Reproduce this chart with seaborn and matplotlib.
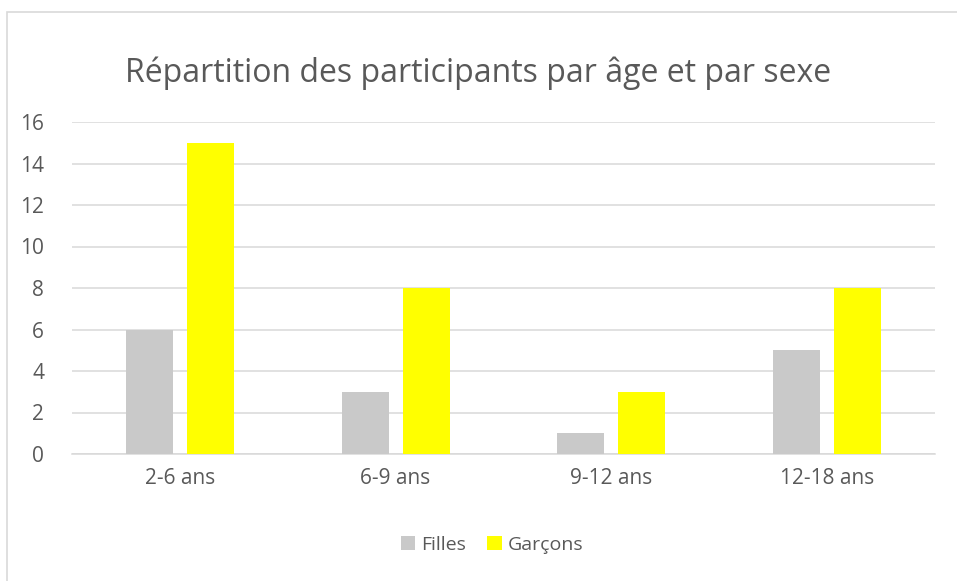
import pandas as pd
import matplotlib
matplotlib.use("Agg")
import matplotlib.pyplot as plt
import seaborn as sns
from matplotlib.patches import Rectangle

categories = ["2-6 ans", "6-9 ans", "9-12 ans", "12-18 ans"]
filles = [6, 3, 1, 5]
garcons = [15, 8, 3, 8]
yticks = [0, 2, 4, 6, 8, 10, 12, 14, 16]

df = pd.DataFrame({
    "age": categories * 2,
    "n": filles + garcons,
    "sexe": ["Filles"] * len(categories) + ["Garçons"] * len(categories),
})

sns.set_style("white")
plt.rcParams["font.family"] = ["Open Sans", "DejaVu Sans"]
txt = "#595959"
grid = "#D9D9D9"

fig = plt.figure(figsize=(9.57, 5.81), dpi=100)
ax = fig.add_axes([72 / 957, 1 - 454 / 581, (935 - 72) / 957, (454 - 122) / 581])

sns.barplot(data=df, x="age", y="n", hue="sexe",
            palette={"Filles": "#C9C9C9", "Garçons": "#FFFF00"},
            width=0.566, gap=0.23, ax=ax, zorder=3, saturation=1,
            linewidth=0, edgecolor="none")

ax.set_ylim(0, 16)
ax.set_yticks(yticks)
ax.set_xlim(-0.5, len(categories) - 0.5)
ax.yaxis.grid(True, color=grid, linewidth=1.1, zorder=0)
ax.set_axisbelow(True)
for s in ["top", "right", "left"]:
    ax.spines[s].set_visible(False)
ax.spines["bottom"].set_color(grid)
ax.spines["bottom"].set_linewidth(1.1)
ax.tick_params(axis="both", length=0, labelsize=15, colors=txt)
ax.tick_params(axis="y", pad=20)
ax.tick_params(axis="x", pad=10)
ax.set_xlabel("")
ax.set_ylabel("")

leg = ax.legend(loc="center", bbox_to_anchor=(492 / 957, 1 - 545 / 581),
                bbox_transform=fig.transFigure, ncol=2, frameon=False,
                fontsize=14, handlelength=0.75, handleheight=0.75,
                handletextpad=0.3, columnspacing=1.1)
for t in leg.get_texts():
    t.set_color(txt)

fig.text(0.5, 1 - 73 / 581, "Répartition des participants par âge et par sexe",
         ha="center", va="center", fontsize=23, color=txt)

fig.patches.append(Rectangle((7 / 957, -0.05), 1.0, 1 - 12 / 581 + 0.05,
                             transform=fig.transFigure, fill=False,
                             edgecolor=grid, linewidth=1.2))

fig.savefig("out.png", dpi=100)
